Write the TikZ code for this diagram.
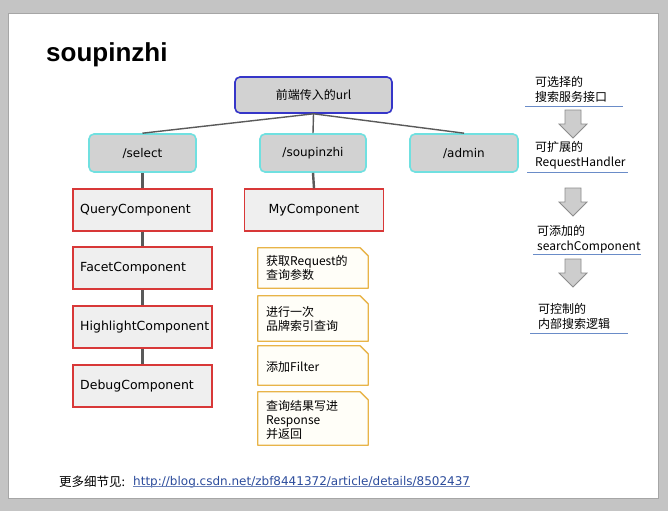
\documentclass[tikz,border=0pt]{standalone}
\usepackage{fontspec}
\setmainfont{Liberation Sans}
\newfontfamily\cjk{Noto Sans CJK SC}
\newfontfamily\dvs{DejaVu Sans}
\definecolor{bggray}{HTML}{C4C4C4}
\definecolor{rootfill}{HTML}{D2D2D2}
\definecolor{rootline}{HTML}{3636C8}
\definecolor{cyanline}{HTML}{70E0E0}
\definecolor{compfill}{HTML}{EFEFEF}
\definecolor{redline}{HTML}{D83838}
\definecolor{noteline}{HTML}{E8B448}
\definecolor{notefill}{HTML}{FFFEF8}
\definecolor{connline}{HTML}{5A5A5A}
\definecolor{ulblue}{HTML}{6A8CC8}
\definecolor{linkblue}{HTML}{2C4C9C}
\definecolor{arrowfill}{HTML}{CDCDCD}
\definecolor{arrowline}{HTML}{8C8C8C}
\tikzset{
  rootbox/.style={draw=rootline, line width=1.6pt, fill=rootfill, rounded corners=5pt,
    minimum width=157pt, minimum height=36pt, inner sep=0pt, font=\cjk\fontsize{12}{14}\selectfont},
  pathbox/.style={draw=cyanline, line width=1.6pt, fill=rootfill, rounded corners=5pt,
    minimum height=38pt, inner sep=0pt, font=\dvs\fontsize{12}{14}\selectfont},
  compbox/.style={draw=redline, line width=1.4pt, fill=compfill,
    minimum width=139pt, minimum height=42pt, inner sep=0pt, font=\dvs\fontsize{12.5}{14}\selectfont},
  comptext/.style={anchor=west, inner sep=0pt, font=\dvs\fontsize{12.5}{14}\selectfont},
  notebox/.style={minimum width=110pt, inner sep=0pt, font=\cjk\fontsize{12}{14}\selectfont},
  notetext/.style={anchor=west, align=left, inner sep=0pt, font=\cjk\fontsize{12}{14}\selectfont},
  sidetext/.style={anchor=west, align=left, inner sep=0pt, font=\cjk\fontsize{12}{15}\selectfont},
  conn/.style={draw=connline, line width=2.4pt},
  rootconn/.style={draw=connline, line width=1.4pt},
  uline/.style={draw=ulblue, line width=1pt},
  blockarrow/.style={draw=arrowline, fill=arrowfill, line width=0.8pt},
}
\begin{document}
\begin{tikzpicture}[x=1pt,y=-1pt]
\fill[bggray] (0,0) rectangle (668,511);
\fill[white] (8,13) rectangle (658,498);
\draw[gray!70, line width=0.6pt] (8,13) rectangle (658,498);
\useasboundingbox (0,0) rectangle (668,511);

% title
\node[anchor=west, inner sep=0pt, font=\bfseries\fontsize{26}{30}\selectfont] (title) at (46,55) {soupinzhi};

% root and paths
\node[rootbox] (root) at (313.5,95) {前端传入的url};
\node[pathbox, minimum width=107pt] (sel) at (142.5,153) {/select};
\node[pathbox, minimum width=106pt] (soup) at (313,153) {/soupinzhi};
\node[pathbox, minimum width=108pt] (adm) at (464,153) {/admin};

\draw[rootconn] (root.south) -- (sel.north);
\draw[rootconn] (root.south) -- (soup.north);
\draw[rootconn] (root.south) -- (adm.north);

% components
\node[compbox] (qc) at (142.5,210) {};
\node[compbox] (fc) at (142.5,268) {};
\node[compbox] (hc) at (142.5,327) {};
\node[compbox] (dc) at (142.5,386) {};
\node[comptext] (qct) at (80,210) {QueryComponent};
\node[comptext] (fct) at (80,268) {FacetComponent};
\node[comptext] (hct) at (80,327) {HighlightComponent};
\node[comptext] (dct) at (80,386) {DebugComponent};
\node[compbox] (my) at (314,210) {MyComponent};

\draw[conn] (sel.south) -- (qc.north);
\draw[conn] (qc.south) -- (fc.north);
\draw[conn] (fc.south) -- (hc.north);
\draw[conn] (hc.south) -- (dc.north);
\draw[conn] (soup.south) -- (my.north);

% notes
\node[notebox, minimum height=40pt] (n1) at (313,268) {};
\node[notebox, minimum height=45pt] (n2) at (313,318.5) {};
\node[notebox, minimum height=39pt] (n3) at (313,365.5) {};
\node[notebox, minimum height=53pt] (n4) at (313,418.5) {};
\foreach \n in {n1,n2,n3,n4}{
  \draw[draw=noteline, line width=1.3pt, fill=notefill, line join=round]
    (\n.north west) -- ([xshift=-8pt]\n.north east) -- ([yshift=-8pt]\n.north east)
    -- (\n.south east) -- (\n.south west) -- cycle;
}
\node[notetext] (n1t) at (266,268) {获取Request的\\查询参数};
\node[notetext] (n2t) at (266,318.5) {进行一次\\品牌索引查询};
\node[notetext] (n3t) at (266,367) {添加Filter};
\node[notetext] (n4t) at (266,420) {查询结果写进\\Response\\并返回};

% right column
\node[sidetext] (s1) at (535,89) {可选择的\\搜索服务接口};
\draw[uline] (525,106) -- (623,106);
\node[sidetext] (s2) at (535,155) {可扩展的\\RequestHandler};
\draw[uline] (527,172) -- (628,172);
\node[sidetext] (s3) at (537,239) {可添加的\\searchComponent};
\draw[uline] (533,254) -- (641,254);
\node[sidetext] (s4) at (538,316) {可控制的\\内部搜索逻辑};
\draw[uline] (530,333) -- (628,333);

\foreach \t in {110,188,259}{
  \draw[blockarrow] (565,\t) -- (581,\t) -- (581,\t+14) -- (587,\t+14) -- (573,\t+28)
    -- (559,\t+14) -- (565,\t+14) -- cycle;
}

% footer
\node[anchor=west, inner sep=0pt, font=\cjk\fontsize{12.5}{14}\selectfont] (more) at (59,482) {更多细节见:};
\node[anchor=west, inner sep=0pt, font=\dvs\fontsize{12}{14}\selectfont, text=linkblue] (link) at (133,482) {http://blog.csdn.net/zbf8441372/article/details/8502437};
\draw[linkblue!70, line width=0.8pt] ([yshift=1.5pt]link.south west) -- ([yshift=1.5pt]link.south east);
\end{tikzpicture}
\end{document}
